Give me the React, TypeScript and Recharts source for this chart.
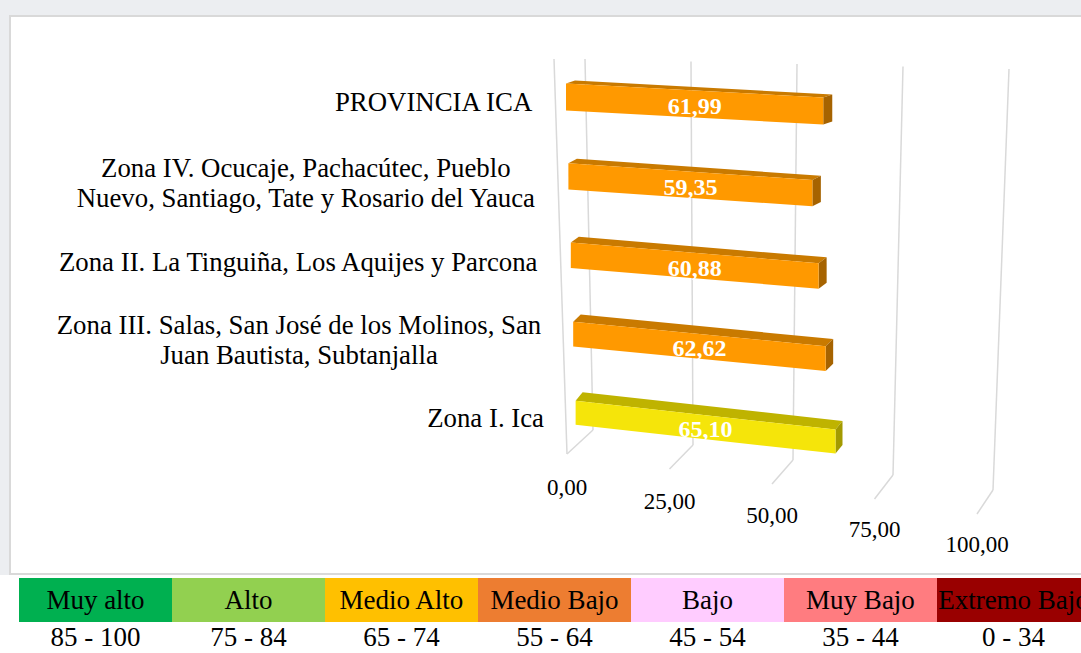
import React from 'react';
import { BarChart, Bar, XAxis, YAxis, CartesianGrid, Cell } from 'recharts';

const categories: string[] = [
  'PROVINCIA ICA',
  'Zona IV. Ocucaje, Pachacútec, Pueblo\nNuevo, Santiago, Tate y Rosario del Yauca',
  'Zona II. La Tinguiña, Los Aquijes y Parcona',
  'Zona III. Salas, San José de los Molinos, San\nJuan Bautista, Subtanjalla',
  'Zona I. Ica',
];
const values: number[] = [61.99, 59.35, 60.88, 62.62, 65.1];
const frontColors = ['#ff9900', '#ff9900', '#ff9900', '#ff9900', '#f5e50a'];
const topColors = ['#c97a00', '#c97a00', '#c97a00', '#c97a00', '#bfb300'];
const sideColors = ['#a66300', '#a66300', '#a66300', '#a66300', '#a39a00'];
const xTicks = [0, 25, 50, 75, 100];

const levelNames = ['Muy alto', 'Alto', 'Medio Alto', 'Medio Bajo', 'Bajo', 'Muy Bajo', 'Extremo Bajo'];
const levelRanges = ['85 - 100', '75 - 84', '65 - 74', '55 - 64', '45 - 54', '35 - 44', '0 - 34'];
const levelColors = ['#00b050', '#92d050', '#ffc000', '#ed7d31', '#ffccff', '#ff7c80', '#990000'];

const data = categories.map((name, i) => ({ name, value: values[i] }));

const FONT = '"Liberation Serif", "Times New Roman", serif';
const PLOT_LEFT = 566;
const PLOT_WIDTH = 415;
const SCALE = PLOT_WIDTH / 100;

let ctx: CanvasRenderingContext2D | null = null;
function measure(text: string, font: string): number {
  if (!ctx) {
    const c = document.createElement('canvas');
    ctx = c.getContext('2d');
  }
  if (!ctx) return text.length * 11;
  ctx.font = font;
  return ctx.measureText(text).width;
}

const fmt = (v: number) => v.toFixed(2).replace('.', ',');

const Bar3D = (props: any) => {
  const { x, y, width, height, index } = props;
  const i = index ?? 0;
  const k = 1 - 0.0095 * i;
  const x0 = x + 2.4 * i;
  const w = width * k;
  const x1 = x0 + w;
  const cy = y + height / 2;
  const h = 27 - 0.75 * i;
  const s = 0.055 + 0.014 * i;
  const dx = 9 - 0.5 * i;
  const dy = -(3 + 1.4 * i);
  const yl = cy - h / 2 - (s * w) / 2;
  const yr = yl + s * w;
  const front = `M${x0},${yl} L${x1},${yr} L${x1},${yr + h} L${x0},${yl + h} Z`;
  const top = `M${x0},${yl} L${x0 + dx},${yl + dy} L${x1 + dx},${yr + dy} L${x1},${yr} Z`;
  const side = `M${x1},${yr} L${x1 + dx},${yr + dy} L${x1 + dx},${yr + dy + h} L${x1},${yr + h} Z`;
  return (
    <g>
      <path d={top} fill={topColors[i]} />
      <path d={side} fill={sideColors[i]} />
      <path d={front} fill={frontColors[i]} />
      <text
        x={(x0 + x1) / 2}
        y={cy + 2}
        textAnchor="middle"
        dominantBaseline="central"
        fill="#ffffff"
        fontFamily={FONT}
        fontWeight="bold"
        fontSize={24}
      >
        {fmt(values[i])}
      </text>
    </g>
  );
};

const YTick = (props: any) => {
  const { x, y, payload, index } = props;
  const lines = String(payload.value).split('\n');
  const fontSize = 26.8;
  const font = `${fontSize}px ${FONT}`;
  const maxW = Math.max(...lines.map((l) => measure(l, font)));
  const right = x - 33 + 2.75 * index;
  const cx = right - maxW / 2;
  const lh = 30;
  const cyy = y - 2 - 0.5 * index * index;
  return (
    <g>
      {lines.map((l, j) => (
        <text
          key={j}
          x={cx}
          y={cyy + (j - (lines.length - 1) / 2) * lh}
          textAnchor="middle"
          dominantBaseline="central"
          fill="#000000"
          fontFamily={FONT}
          fontSize={fontSize}
        >
          {l}
        </text>
      ))}
    </g>
  );
};

const XTick = (props: any) => {
  const { x, y, payload } = props;
  const v = (x - PLOT_LEFT) / SCALE;
  return (
    <text
      x={x + 1 - 0.05 * v}
      y={y + 19 + 0.57 * v}
      textAnchor="middle"
      dominantBaseline="central"
      fill="#000000"
      fontFamily={FONT}
      fontSize={23}
    >
      {fmt(payload.value)}
    </text>
  );
};

const GridLine = (props: any) => {
  const { x1, y1, y2, index } = props;
  const v = (x1 - PLOT_LEFT) / SCALE;
  const tx = x1 + 19 + 0.09 * v;
  const ty = y1 - 5 + 0.1 * v;
  const bx = x1 + 27 - 0.15 * v;
  const by = y2 - 38 + 0.6 * v;
  const ex = bx - 26 + 0.1 * v;
  const ey = by + 24;
  const stroke = '#d9d9d9';
  return (
    <g key={`g${index}`}>
      <line x1={tx} y1={ty} x2={bx} y2={by} stroke={stroke} strokeWidth={1.5} />
      <line x1={bx} y1={by} x2={ex} y2={ey} stroke={stroke} strokeWidth={1.5} />
      {index === 0 ? (
        <line x1={x1 - 12} y1={ty} x2={ex} y2={ey} stroke={stroke} strokeWidth={1.5} />
      ) : null}
    </g>
  );
};

export default function App() {
  return (
    <div
      style={{
        position: 'absolute',
        left: 0,
        top: 0,
        width: 1081,
        height: 653,
        background: '#ffffff',
        overflow: 'hidden',
        fontFamily: FONT,
      }}
    >
      <div style={{ position: 'absolute', left: 0, top: 0, width: 1081, height: 15, background: '#eceef1' }} />
      <div style={{ position: 'absolute', left: 0, top: 0, width: 9, height: 575, background: '#eceef1' }} />
      <div
        style={{
          position: 'absolute',
          left: 9,
          top: 15,
          width: 1090,
          height: 556,
          background: '#ffffff',
          border: '2px solid #d9d9d9',
        }}
      />
      <div style={{ position: 'absolute', left: 0, top: 0 }}>
        <BarChart
          width={1081}
          height={575}
          data={data}
          layout="vertical"
          margin={{ top: 64, right: 1081 - PLOT_LEFT - PLOT_WIDTH, bottom: 0, left: 0 }}
          barSize={26}
        >
          <CartesianGrid horizontal={false} vertical={GridLine} />
          <XAxis
            type="number"
            domain={[0, 100]}
            ticks={xTicks}
            height={107}
            axisLine={false}
            tickLine={false}
            tickSize={0}
            tickMargin={0}
            tick={XTick}
            interval={0}
          />
          <YAxis
            type="category"
            dataKey="name"
            width={PLOT_LEFT}
            axisLine={false}
            tickLine={false}
            tickSize={0}
            tickMargin={0}
            tick={YTick}
            interval={0}
          />
          <Bar dataKey="value" isAnimationActive={false} shape={Bar3D}>
            {data.map((d, i) => (
              <Cell key={d.name} fill={frontColors[i]} />
            ))}
          </Bar>
        </BarChart>
      </div>
      <div style={{ position: 'absolute', left: 19, top: 578, display: 'flex' }}>
        {levelNames.map((n, i) => (
          <div
            key={n}
            style={{
              width: 153,
              height: 44,
              background: levelColors[i],
              color: '#000000',
              fontSize: 27,
              lineHeight: '44px',
              textAlign: 'center',
              whiteSpace: 'nowrap',
              overflow: 'visible',
            }}
          >
            {n}
          </div>
        ))}
      </div>
      <div style={{ position: 'absolute', left: 19, top: 622, display: 'flex' }}>
        {levelRanges.map((r) => (
          <div
            key={r}
            style={{
              width: 153,
              height: 31,
              color: '#000000',
              fontSize: 27,
              lineHeight: '31px',
              textAlign: 'center',
              whiteSpace: 'nowrap',
            }}
          >
            {r}
          </div>
        ))}
      </div>
    </div>
  );
}
